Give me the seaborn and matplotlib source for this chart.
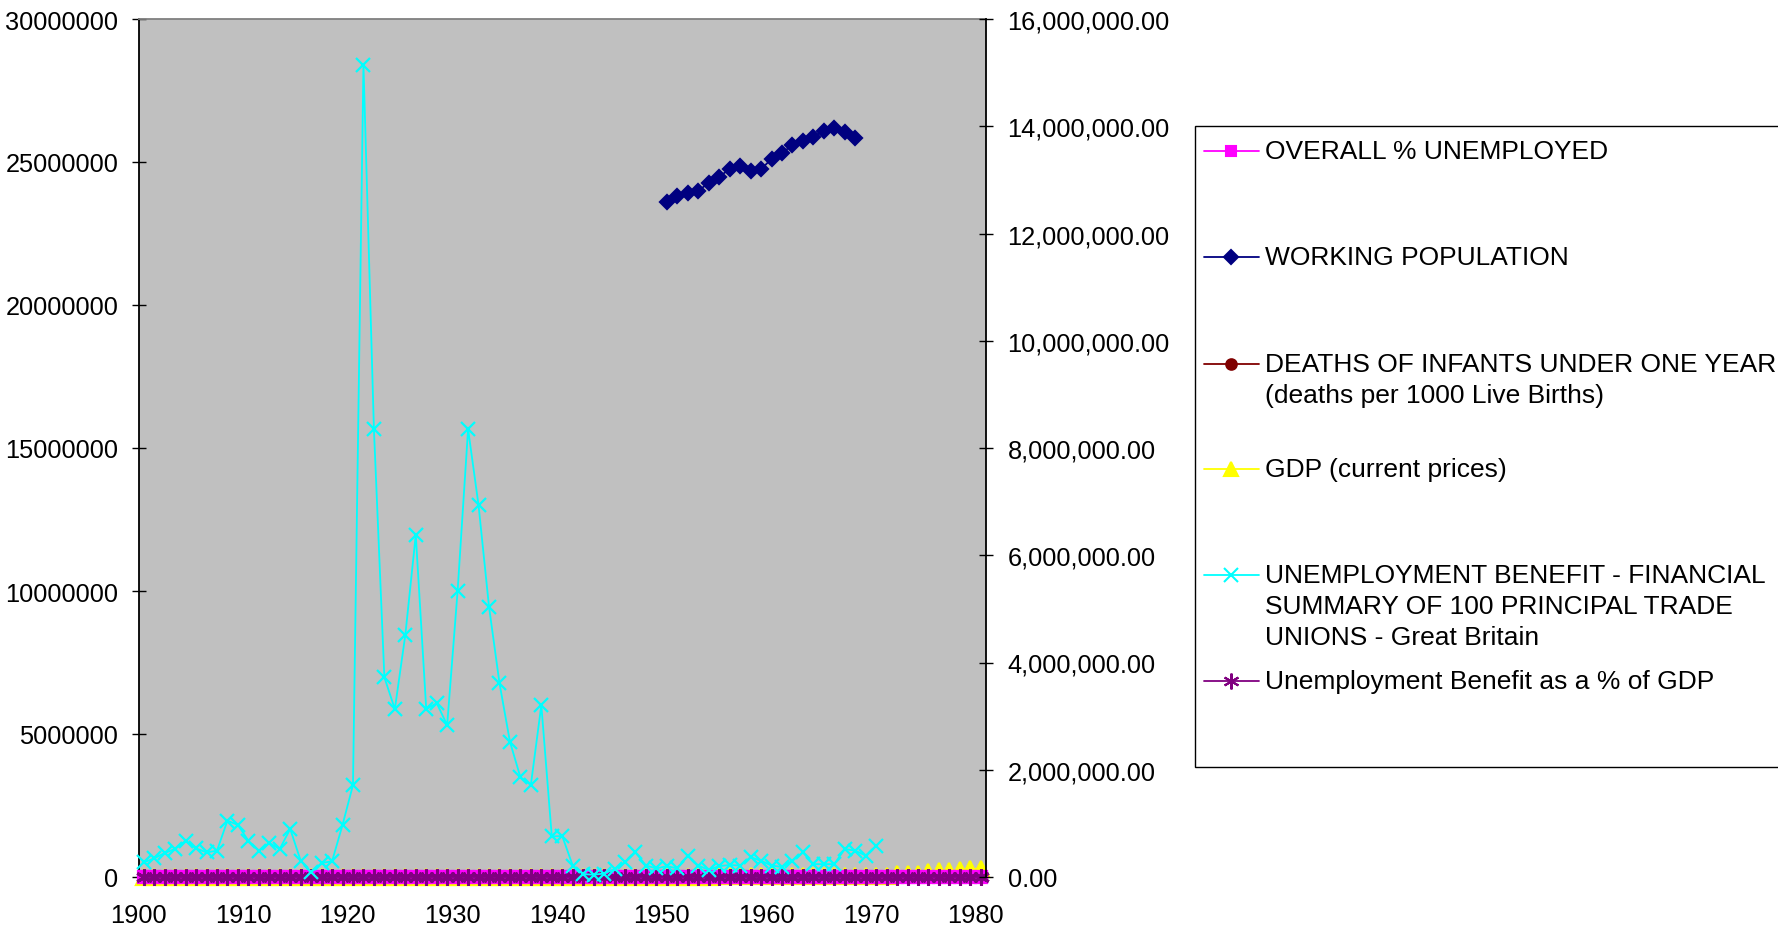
import matplotlib
matplotlib.use('Agg')
import matplotlib.pyplot as plt
import seaborn as sns
from matplotlib.lines import Line2D
from matplotlib.patches import Rectangle
from matplotlib.ticker import FuncFormatter, MultipleLocator

# ---- data -------------------------------------------------------------
years = list(range(1900, 1981))

# unemployment benefit paid by 100 principal trade unions (GBP), 1900-1970
benefit_years = list(range(1900, 1971))
benefit = [
    510000, 650000, 840000, 980000, 1270000, 1000000, 860000, 920000, 1970000, 1820000,
    1270000, 920000, 1190000, 980000, 1680000, 570000, 160000, 490000, 550000, 1820000,
    3220000, 28400000, 15660000, 6980000, 5870000, 8460000, 11960000, 5870000, 6080000, 5310000,
    10010000, 15660000, 13000000, 9450000, 6780000, 4730000, 3490000, 3220000, 6010000, 1420000,
    1430000, 400000, 100000, 80000, 120000, 280000, 510000, 860000, 400000, 300000,
    380000, 300000, 750000, 400000, 250000, 380000, 420000, 400000, 690000, 570000,
    400000, 350000, 570000, 860000, 450000, 450000, 450000, 980000, 920000, 750000,
    1090000,
]

# working population, 1950-1968 (right axis)
workpop_years = list(range(1950, 1969))
workpop = [
    12580000, 12690000, 12760000, 12800000, 12940000, 13060000, 13200000, 13250000, 13170000,
    13200000, 13390000, 13500000, 13650000, 13730000, 13800000, 13920000, 13960000, 13890000,
    13780000,
]

pct_unemployed = [
    2.5, 3.3, 4.0, 4.7, 6.0, 5.0, 3.6, 3.7, 7.8, 7.7,
    4.7, 3.0, 3.2, 2.1, 3.3, 1.1, 0.4, 0.7, 0.8, 2.4,
    2.4, 17.0, 14.3, 11.7, 10.3, 11.3, 12.5, 9.7, 10.8, 10.4,
    16.1, 21.3, 22.1, 19.9, 16.7, 15.5, 13.1, 10.8, 12.9, 10.5,
    6.0, 2.2, 0.8, 0.6, 0.5, 1.2, 2.5, 3.1, 1.8, 1.6,
    1.5, 1.2, 2.1, 1.8, 1.5, 1.2, 1.3, 1.6, 2.2, 2.3,
    1.7, 1.6, 2.1, 2.6, 1.7, 1.5, 1.6, 2.5, 2.5, 2.5,
    2.6, 3.5, 3.8, 2.7, 2.6, 4.1, 5.7, 6.2, 6.1, 5.7,
    7.4,
]

infant_deaths = [
    154, 151, 133, 132, 145, 128, 132, 118, 120, 109,
    105, 130, 95, 108, 105, 110, 91, 96, 97, 89,
    80, 83, 77, 69, 75, 75, 70, 70, 65, 74,
    60, 66, 65, 64, 59, 57, 59, 58, 53, 51,
    57, 60, 49, 49, 45, 46, 43, 41, 34, 32,
    30, 30, 28, 27, 26, 25, 24, 23, 23, 22,
    22, 21, 21, 21, 20, 19, 19, 18, 18, 18,
    18, 18, 17, 17, 16, 16, 14, 14, 13, 13,
    12,
]

gdp = [
    1950, 1960, 1980, 1970, 1960, 2020, 2100, 2180, 2090, 2110,
    2190, 2270, 2360, 2480, 2510, 2930, 3500, 4300, 5100, 5900,
    6300, 5300, 4600, 4400, 4500, 4600, 4400, 4600, 4600, 4700,
    4600, 4300, 4200, 4300, 4500, 4700, 4900, 5200, 5300, 5800,
    7000, 8100, 9000, 9600, 9900, 9800, 9700, 10100, 11000, 11600,
    12300, 13700, 14900, 15900, 16700, 17900, 19300, 20400, 21300, 22300,
    23900, 25400, 26500, 28000, 30600, 32700, 34800, 36600, 39300, 41600,
    45600, 51500, 90000, 95000, 100000, 190000, 195000, 200000, 240000, 280000,
    285000,
]

benefit_pct_gdp = [
    0.03, 0.03, 0.04, 0.05, 0.06, 0.05, 0.04, 0.04, 0.09, 0.09,
    0.06, 0.04, 0.05, 0.04, 0.07, 0.02, 0.00, 0.01, 0.01, 0.03,
    0.05, 0.54, 0.34, 0.16, 0.13, 0.18, 0.27, 0.13, 0.13, 0.11,
    0.22, 0.36, 0.31, 0.22, 0.15, 0.10, 0.07, 0.06, 0.11, 0.02,
    0.02, 0.00, 0.00, 0.00, 0.00, 0.00, 0.01, 0.01, 0.00, 0.00,
    0.00, 0.00, 0.01, 0.00, 0.00, 0.00, 0.00, 0.00, 0.00, 0.00,
    0.00, 0.00, 0.00, 0.00, 0.00, 0.00, 0.00, 0.00, 0.00, 0.00,
    0.00, 0.00, 0.00, 0.00, 0.00, 0.00, 0.00, 0.00, 0.00, 0.00,
    0.00,
]

labels = [
    'OVERALL % UNEMPLOYED',
    'WORKING POPULATION',
    'DEATHS OF INFANTS UNDER ONE YEAR\n(deaths per 1000 Live Births)',
    'GDP (current prices)',
    'UNEMPLOYMENT BENEFIT - FINANCIAL\nSUMMARY OF 100 PRINCIPAL TRADE\nUNIONS - Great Britain',
    'Unemployment Benefit as a % of GDP',
]

# ---- style --------------------------------------------------------------
sns.set_style('white')
plt.rcParams['font.family'] = ['Liberation Sans', 'DejaVu Sans']

W, H = 1778, 929
fig = plt.figure(figsize=(W / 100, H / 100), dpi=100)

left, right, top, bottom = 138.5, 986, 20, 878
ax = fig.add_axes([left / W, 1 - bottom / H, (right - left) / W, (bottom - top) / H])
ax.set_facecolor('#C0C0C0')
ax2 = ax.twinx()
ax2.patch.set_visible(False)

# category axis: each year sits in the middle of its slot
def centred(yrs):
    return [y + 0.5 for y in yrs]

styles = [
    # (color, marker, size, edge width)
    ('#FF00FF', 's', 8, 1.6),
    ('#000080', 'D', 7, 1.6),
    ('#800000', 'o', 8, 1.6),
    ('#FFFF00', '^', 11, 1.6),
    ('#00FFFF', 'x', 10, 1.6),
    ('#800080', (6, 2, 0), 12, 2.2),
]

def draw(axis, x, y, k, z, clip=True):
    c, m, s, mew = styles[k]
    sns.lineplot(x=centred(x), y=y, ax=axis, color=c, marker=m, markersize=s,
                 markeredgecolor=c, markerfacecolor=c, markeredgewidth=mew,
                 linewidth=1.3, legend=False, zorder=z, clip_on=clip)

# markers of the near-zero series spill over the axis line, as in Excel
draw(ax, years, gdp, 3, 2, clip=False)
draw(ax, years, infant_deaths, 2, 3, clip=False)
draw(ax, years, pct_unemployed, 0, 4, clip=False)
draw(ax, years, benefit_pct_gdp, 5, 5, clip=False)
draw(ax, benefit_years, benefit, 4, 6, clip=False)
draw(ax2, workpop_years, workpop, 1, 3)

ax.set_xlim(1900, 1981)
ax.set_ylim(0, 30000000)
ax2.set_ylim(0, 16000000)
ax.xaxis.set_major_locator(MultipleLocator(10))
ax.yaxis.set_major_locator(MultipleLocator(5000000))
ax2.yaxis.set_major_locator(MultipleLocator(2000000))
ax.yaxis.set_major_formatter(FuncFormatter(lambda v, p: f'{v:.0f}'))
ax2.yaxis.set_major_formatter(FuncFormatter(lambda v, p: f'{v:,.2f}'))
ax.set_xlabel('')
ax.set_ylabel('')
ax2.set_ylabel('')

for a in (ax, ax2):
    a.tick_params(direction='inout', length=10, width=1, labelsize=18.3,
                  colors='black')
ax.tick_params(axis='y', pad=9.5, right=False, labelright=False)
ax.tick_params(axis='x', pad=13.5)
ax2.tick_params(axis='y', pad=10.5)

for name, sp in ax.spines.items():
    sp.set_color('black')
    sp.set_linewidth(1.3)
ax.spines['top'].set_color('#808080')
ax.spines['right'].set_visible(False)
for name, sp in ax2.spines.items():
    sp.set_visible(name == 'right')
ax2.spines['right'].set_color('black')
ax2.spines['right'].set_linewidth(1.3)

# ---- legend box (Excel-like layout) -------------------------------------
def fx(px):
    return px / W

def fy(py):
    return 1 - py / H

fig.add_artist(Rectangle((fx(1195), fy(768)), fx(1800 - 1195), (768 - 127) / H,
                         transform=fig.transFigure, facecolor='white',
                         edgecolor='black', linewidth=1))

entry_y = [152, 258, 365, 470, 576, 682]
for k, (lab, yy) in enumerate(zip(labels, entry_y)):
    c, m, s, mew = styles[k]
    fig.add_artist(Line2D([fx(1204), fx(1259)], [fy(yy), fy(yy)],
                          transform=fig.transFigure, color=c, linewidth=1.3))
    fig.add_artist(Line2D([fx(1231)], [fy(yy)], transform=fig.transFigure,
                          color=c, marker=m, markersize=s * 0.95, markeredgecolor=c,
                          markerfacecolor=c, markeredgewidth=1.5, linestyle='none'))
    for i, line in enumerate(lab.split('\n')):
        fig.text(fx(1265), fy(yy + 7 + 31 * i), line, fontsize=19, color='black',
                 ha='left', va='baseline')

fig.savefig('out.png', dpi=100, facecolor='white')
